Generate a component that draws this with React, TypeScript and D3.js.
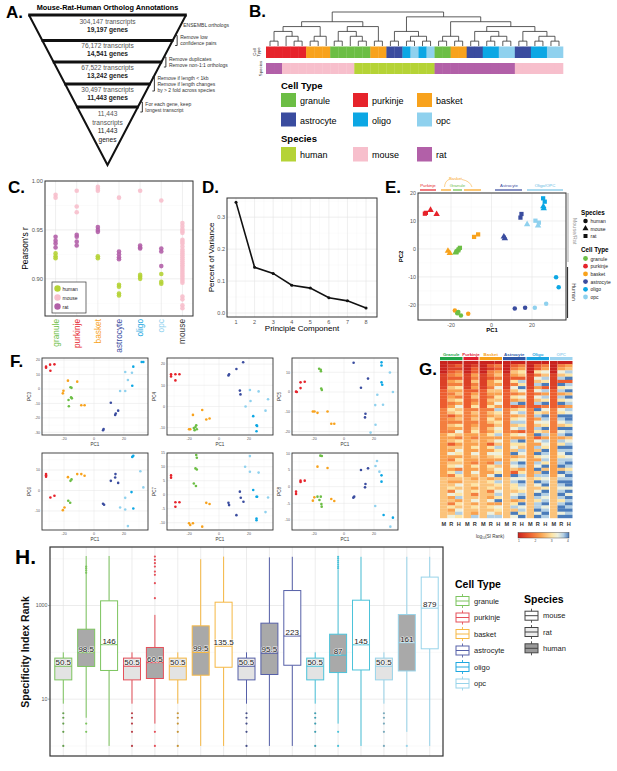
import React from "react";
import * as d3 from "d3";

const FONT = "'Liberation Sans', Arial, Helvetica, sans-serif";

// shared categories
const cellTypes = ["granule", "purkinje", "basket", "astrocyte", "oligo", "opc"];
const cellColors = ["#6cbe45", "#e6232b", "#f8a21c", "#3a4c9f", "#0ca7e4", "#8fd1ee"];
const cellColorsH = ["#7cc45e", "#e5505a", "#f6b844", "#5660a8", "#4cc3da", "#98d4ea"];
const speciesNames = ["human", "mouse", "rat"];
const speciesColors = ["#b5d336", "#f7bfcc", "#b260a8"];

// A. ortholog funnel
const funnelTranscripts = ["304,147", "76,172", "67,522", "30,497", "11,443"];
const funnelGenes = ["19,197", "14,541", "13,242", "11,443", "11,443"];
const funnelNotes = [
  ["ENSEMBL orthologs"],
  ["Remove low", "confidence pairs"],
  ["Remove duplicates", "Remove non-1:1 orthologs"],
  ["Remove if length < 1kb", "Remove if length changes", "by > 2 fold across species"],
  ["For each gene, keep", "longest transcript"],
];

// B. hierarchical clustering (leaf indices)
const dendro = [
  [
    [[[0, 1], [2, [3, 4]]], [[5, 6], 7]],
    [[[8, 9], [10, [11, 12]]], [13, 14]],
  ],
  [
    [[15, 16], [[17, 18], [19, 20]]],
    [
      [[21, 22], [23, 24]],
      [[[25, 26], [[27, 28], [29, 30]]], [[31, 32], [[33, 34], [35, 36]]]],
    ],
  ],
];
const leafCellType = [1, 1, 1, 1, 1, 2, 2, 2, 0, 0, 0, 0, 0, 2, 2, 3, 3, 4, 5, 4, 5, 0, 0, 2, 2, 3, 3, 4, 4, 5, 5, 3, 3, 4, 4, 5, 5];
const leafSpecies = [2, 2, 1, 1, 1, 1, 1, 1, 1, 1, 1, 0, 0, 0, 0, 0, 0, 0, 0, 0, 0, 2, 2, 2, 2, 2, 2, 2, 2, 2, 2, 1, 1, 1, 1, 1, 1];

// C. Pearson's r
const corrCategories = ["granule", "purkinje", "basket", "astrocyte", "oligo", "opc", "mouse"];
const corrHuman = [[0.926, 0.923, 0.921], [], [0.923, 0.921], [0.894, 0.892, 0.885, 0.883], [0.904, 0.902, 0.9], [0.905, 0.897, 0.895], []];
const corrMouse = [
  [0.986, 0.983],
  [0.99, 0.974, 0.968],
  [0.994, 0.992, 0.99],
  [0.983],
  [0.99],
  [0.98],
  [0.957, 0.954, 0.951, 0.949, 0.947, 0.94, 0.938, 0.936, 0.933, 0.93, 0.928, 0.926, 0.924, 0.922, 0.92, 0.918, 0.916, 0.914, 0.912, 0.91, 0.908, 0.906, 0.904, 0.902, 0.9, 0.898, 0.896, 0.882, 0.879, 0.873, 0.87],
];
const corrRat = [[0.943, 0.939, 0.936, 0.932], [0.945, 0.943, 0.938, 0.934], [0.953, 0.95, 0.948], [0.928, 0.925, 0.922, 0.92], [0.934, 0.932, 0.931], [0.931, 0.928, 0.913], []];

// D. scree
const pcIndex = [1, 2, 3, 4, 5, 6, 7, 8];
const pcVariance = [0.347, 0.143, 0.124, 0.087, 0.078, 0.048, 0.038, 0.016];

// E. PC1 vs PC2: [pc1, pc2, cell type, species]
const pcaPoints = [
  [-32.9, 12.6, 1, 2], [-32.4, 12.9, 1, 2], [-30.1, 13.9, 1, 1], [-27.1, 12.4, 1, 1],
  [-8.6, 4.3, 2, 2], [-6.6, 5.2, 2, 2], [-21.5, -0.7, 2, 1], [-20.6, -1.5, 2, 1], [-18.1, -22, 2, 0], [-11.5, -23.2, 2, 0],
  [-17.8, -1.3, 0, 1], [-16.9, -0.6, 0, 1], [-16.2, -0.2, 0, 2], [-15.6, 0.4, 0, 2], [-17.2, -1, 0, 2], [-16.4, -22.5, 0, 0], [-15.1, -23.8, 0, 0], [-16.9, -23, 0, 0],
  [14.3, 11.2, 3, 2], [14.8, 12.5, 3, 2], [6.1, 4.4, 3, 1], [6.6, 3.8, 3, 1], [11.5, -21.3, 3, 0], [16.6, -21, 3, 0],
  [25.5, 18.1, 4, 2], [26.3, 16.9, 4, 2], [25.6, 15.2, 4, 1], [25.8, 14.5, 4, 1], [31.9, -10.1, 4, 0], [33.2, -13.7, 4, 0],
  [17.6, 8.8, 5, 1], [21.7, 10.1, 5, 2], [23.4, 9.4, 5, 2], [23, 8.3, 5, 1], [21.4, -21, 5, 0], [27, -19.6, 5, 0],
];

// F. PC1 vs PC3..PC8: [pc1, pcN, cell type]
const fPC3 = [
  [-32, 15.5, 1], [-32, 14.8, 1], [-29.3, 16.9, 1], [-26.4, 17.1, 1], [-29.1, 12.7, 1],
  [-17.4, 5.8, 2], [-11.2, 5.1, 2], [-20.4, -1.2, 2], [-20.8, -3, 2], [-8.5, -11.3, 2], [-6.3, -11.3, 2],
  [-15.7, 1.2, 0], [-15, 0.8, 0], [-17, -7.6, 0], [-14.8, -6.5, 0], [-15.3, -5.8, 0], [-16.8, -12, 0],
  [11.2, -9.5, 3], [14.1, -18, 3], [14.5, -17, 3], [16.1, -15, 3], [6, -28.6, 3], [6.4, -27.8, 3],
  [31.8, 18.7, 4], [32.9, 18.7, 4], [25.5, 2.3, 4], [26.2, 15.5, 4],
  [20.8, 11.8, 5], [22.6, 6.2, 5], [25.3, 11.3, 5], [17.4, -1.4, 5], [20.8, -1.4, 5],
];
const fPC4 = [
  [-32, 15.2, 1], [-32, 14.2, 1], [-29.1, 15.2, 1], [-26.4, 15.2, 1], [-29.1, 12.3, 1],
  [-17.4, -4, 2], [-11.2, -1.7, 2], [-20, -10.8, 2], [-19.2, -10.8, 2], [-8.5, -6.2, 2], [-6.3, -5.7, 2],
  [-16.8, -10.2, 0], [-15.7, -9.7, 0], [-15.2, -8.9, 0], [-14.8, -10.8, 0], [-16.3, -11.2, 0],
  [6.3, 14.6, 3], [6.7, 15.2, 3], [11.6, 17.7, 3], [16.1, 20.9, 3], [13.9, 7.5, 3], [14.3, 5.7, 3],
  [22.8, -4.6, 4], [25, -8.9, 4], [25.4, -9.2, 4], [25, -11.7, 4],
  [20.6, 7.8, 5], [26.4, 7.1, 5], [32.7, 3.4, 5], [21, 2.6, 5], [17.7, 0, 5], [31, -2, 5],
];
const fPC5 = [
  [-32, 0.2, 1], [-31.5, 0, 1], [-29, 4.9, 1], [-26.2, 5.2, 1], [-29, 2, 1],
  [-20.8, -9.8, 2], [-19.7, -9.8, 2], [-17.7, -10.5, 2], [-11, -9.8, 2], [-8.5, -16, 2], [-6.5, -16, 2],
  [-16.6, 11.8, 0], [-15.5, 11.3, 0], [-15.4, 10.5, 0], [-15.2, 1.8, 0], [-14.8, 1, 0],
  [6.4, 14.8, 3], [16, 6.8, 3], [11.3, 2.2, 3], [14.3, -11, 3], [14, -12.8, 3],
  [25, 15, 4], [25, 13.4, 4], [25, 4.9, 4], [25.5, 3.7, 4],
  [30.6, 9.9, 5], [32.6, 0, 5], [22.2, -1.4, 5], [20.8, -6.6, 5], [26, -6.4, 5], [21, -16.5, 5], [17.7, -20.5, 5],
];
const fPC6 = [
  [-32, 8, 1], [-32, 6.7, 1], [-32, 7.4, 1], [-29.1, -3.4, 1], [-26.4, -2.6, 1],
  [-17.4, 6.5, 2], [-11.2, 8, 2], [-8.5, 8, 2], [-6.3, 7.2, 2], [-19.7, -8.3, 2], [-20.8, -9.6, 2],
  [-15.7, 4.7, 0], [-15, 5.4, 0], [-17.2, -5, 0], [-15.9, -6, 0],
  [6, -6.5, 3], [6.7, -7, 3], [11.2, 4.7, 3], [14.1, 6.3, 3], [14.3, 8, 3], [16.1, 3.7, 3],
  [25.5, 16.4, 4], [26.2, 16.9, 4], [25, -0.8, 4], [26.2, -8.8, 4],
  [30.9, 9.4, 5], [32.9, 1.5, 5], [20.8, -3.6, 5], [17.4, -8.3, 5], [20.8, -9.3, 5], [22.6, -17.4, 5],
];
const fPC7 = [
  [-32, 6.9, 1], [-32, 6.1, 1], [-29.1, -2.7, 1], [-26.4, -2.7, 1], [-29.1, -4.3, 1],
  [-20, -10.2, 2], [-19.2, -10.8, 2], [-17.4, -10.2, 2], [-11.2, -11.4, 2], [-8.5, -2.9, 2], [-6.3, -3.3, 2],
  [-15.2, 14.2, 0], [-14.8, 13.2, 0], [-15.7, 9.4, 0], [-14.8, 9, 0], [-16.8, 4, 0], [-15.4, 3.1, 0],
  [6.3, -2.9, 3], [6.7, -3.7, 3], [13.9, 1.1, 3], [14.5, -1.1, 3], [16.3, -2.5, 3], [11.6, -7.3, 3],
  [22.8, 1.7, 4], [25, -0.7, 4], [25.4, -0.7, 4], [25, -8.5, 4], [25, -9.1, 4],
  [20.6, 13.8, 5], [17.4, 10, 5], [20.6, 8.2, 5], [26.4, 7.9, 5], [32.7, -1, 5], [31, -6.2, 5],
];
const fPC8 = [
  [-32, -1.5, 1], [-32, -2.2, 1], [-29, 1.8, 1], [-26.2, 1.8, 1], [-29, 1.4, 1],
  [-17.7, 6, 2], [-11, 5.6, 2], [-20.8, -4.2, 2], [-19.8, -3.2, 2], [-8.5, -3.7, 2], [-6.5, -4.3, 2],
  [-15.8, 9.3, 0], [-14.8, 9.2, 0], [-17.7, -3, 0], [-15.5, -3, 0], [-16.4, -4, 0], [-15.1, -5.2, 0], [-14.9, -6, 0],
  [6.2, -3.3, 3], [6.8, -3, 3], [11.3, 5, 3], [16, 5.5, 3], [14.3, 0.8, 3], [14, -0.2, 3],
  [25, 3.4, 4], [25, 1.5, 4], [26.4, -8.5, 4], [32.6, -9.3, 4],
  [22, 7.7, 5], [21, 6.2, 5], [23.6, 4.5, 5], [20.8, -5.8, 5], [30.9, -12, 5],
];
const fLabels = ["PC3", "PC4", "PC5", "PC6", "PC7", "PC8"];
const fDomains = [[-31.9, 21.5], [-13.5, 22.9], [-21.7, 17.2], [-19.3, 18.3], [-12.6, 14.9], [-13, 10.1]];
const fTicks = [[-30, -20, -10, 0, 10, 20], [-10, 0, 10, 20], [-20, -10, 0, 10], [-10, 0, 10], [-10, -5, 0, 5, 10, 15], [-10, -5, 0, 5, 10]];

// G. log10(SI rank) heatmap, one digit per row (0 = best rank ... 9 = worst)
const heatGroups = ["Granule", "Purkinje", "Basket", "Astrocyte", "Oligo", "OPC"];
const heatGroupColors = ["#1fa54a", "#e0202f", "#f7a11a", "#2e58a6", "#1aa3e0", "#9dd3ef"];
const heatGroupSpecies = [["M", "R", "H"], ["M", "R"], ["M", "R", "H"], ["M", "R", "H"], ["M", "R", "H"], ["M", "R", "H"]];
const mouseRankColumn = "00001111122222233333333444444444444445555555555555";
const heatRat = [
  "01123243543453465243543645254743564635456374536457",
  "01224353424534635453456435464754364754564635746548",
  "02133244354354635465354645264754365474656354746578",
  "02354263753648257468573648675946875297866578468597",
  "02263758473758296847586927485964879586975798688979",
  "03475829684869376987597848698768895978987898689979",
];
const heatHuman = [
  "02134253645364756453647536457646573865475768465786",
  "",
  "03245364754657486546576847586764857695865786947658",
  "03465286974759368578682749658757984687987689597869",
  "03475869284869375987695848769878695987896987897898",
  "04586928795978487998698957898978986898997979898989",
];

// H. specificity index rank boxplots
const boxCell = [0, 0, 0, 1, 1, 2, 2, 2, 3, 3, 3, 4, 4, 4, 5, 5, 5];
const boxSpecies = ["mouse", "rat", "human", "mouse", "rat", "mouse", "rat", "human", "mouse", "rat", "human", "mouse", "rat", "human", "mouse", "rat", "human"];
const boxMedian = [50.5, 98.5, 146, 50.5, 60.5, 50.5, 99.5, 135.5, 50.5, 95.5, 223, 50.5, 87, 145, 50.5, 161, 879];
const boxQ1 = [25.8, 50, 41, 25.8, 27.6, 25.8, 32.5, 48, 25.8, 33.6, 53, 25.8, 37, 42, 25.8, 40, 119];
const boxQ3 = [75.3, 312, 1259, 75.3, 127, 75.3, 368, 1178, 75.3, 420, 2090, 75.3, 244, 1300, 75.3, 642, 4050];
const boxLow = [8, 4, 1, 8, 3, 8, 1, 1, 8, 1, 1, 8, 3, 1, 8, 2, 1];
const boxHigh = [100, 11400, 11443, 100, 631, 100, 9760, 11100, 100, 10700, 11000, 100, 5800, 11000, 100, 11000, 11000];
const boxOutliers = [
  [1, 2, 3, 4, 5], [6800, 6200, 5600, 5000, 3, 2], [], [1, 2, 3, 4, 5],
  [11100, 9440, 8020, 6810, 5320, 4520, 3000, 1435, 2, 1], [1, 2, 3, 4, 5], [], [],
  [1, 2, 3, 4, 5], [], [], [1, 2, 3, 4, 5], [11000, 10000, 9000, 8200, 7400, 6700, 6200, 2, 1], [],
  [1, 2, 3, 4, 5], [1], [],
];
const boxSpeciesKeys = ["mouse", "rat", "human"];
const boxSpeciesFill = ["#e3e3e3", "#a9a9a9", "#ffffff"];

const MAJ = "#e4e4e4";
const MIN = "#f3f3f3";

function Grid({ xs, ys, x0, x1, y0, y1, xMaj = [], xMin = [], yMaj = [], yMin = [], w = 0.6 }: any) {
  return (
    <g>
      <rect x={x0} y={y0} width={x1 - x0} height={y1 - y0} fill="#fff" />
      {xMin.map((v: any) => <line key={"a" + v} x1={xs(v)} x2={xs(v)} y1={y0} y2={y1} stroke={MIN} strokeWidth={w * 0.6} />)}
      {yMin.map((v: any) => <line key={"b" + v} y1={ys(v)} y2={ys(v)} x1={x0} x2={x1} stroke={MIN} strokeWidth={w * 0.6} />)}
      {xMaj.map((v: any) => <line key={"c" + v} x1={xs(v)} x2={xs(v)} y1={y0} y2={y1} stroke={MAJ} strokeWidth={w} />)}
      {yMaj.map((v: any) => <line key={"d" + v} y1={ys(v)} y2={ys(v)} x1={x0} x2={x1} stroke={MAJ} strokeWidth={w} />)}
    </g>
  );
}

function Border({ x0, x1, y0, y1, w = 1 }: any) {
  return <rect x={x0} y={y0} width={x1 - x0} height={y1 - y0} fill="none" stroke="#333" strokeWidth={w} />;
}

function PanelA() {
  const topY = 15, apexY = 165, left = 29, right = 186, cx = (left + right) / 2;
  const hw = (y: number) => (((right - left) / 2) * (apexY - y)) / (apexY - topY);
  const bars = [15, 40.5, 62, 84, 107];
  return (
    <g>
      <text x={6} y={18} fontSize={17} fontWeight="bold">A.</text>
      <text x={cx} y={10} fontSize={7.3} fontWeight="bold" textAnchor="middle">Mouse-Rat-Human Ortholog Annotations</text>
      <path d={`M${left},${topY} L${cx},${apexY} L${right},${topY}`} fill="none" stroke="#111" strokeWidth={2} />
      {bars.map((y, i) => (
        <line key={i} x1={cx - hw(y) - 0.8} x2={cx + hw(y) + 0.8} y1={y} y2={y} stroke="#111" strokeWidth={3} />
      ))}
      {funnelTranscripts.slice(0, 4).map((t, i) => {
        const c = (bars[i] + bars[i + 1]) / 2;
        return (
          <g key={i} textAnchor="middle">
            <text x={cx} y={c - 3.3} fontSize={6.6} fill="#555">{t} transcripts</text>
            <text x={cx} y={c + 4.7} fontSize={6.6} fill="#222" fontWeight="bold">{funnelGenes[i]} genes</text>
          </g>
        );
      })}
      <g textAnchor="middle" fontSize={6.6}>
        <text x={cx} y={116} fill="#555">{funnelTranscripts[4]}</text>
        <text x={cx} y={124.5} fill="#555">transcripts</text>
        <text x={cx} y={133} fill="#222">{funnelGenes[4]}</text>
        <text x={cx} y={141.5} fill="#222">genes</text>
      </g>
      <text x={cx + hw(25) + 2.5} y={26.5} fontSize={5} fill="#333">{funnelNotes[0][0]}</text>
      {funnelNotes.slice(1).map((lines, k) => {
        const i = k + 1;
        const by = bars[i];
        const bx = cx + hw(by) + 4.5;
        const n = lines.length;
        const h = n > 2 ? 7 : 5;
        return (
          <g key={i}>
            <path d={`M${bx - 2},${by - h} L${bx},${by - h} L${bx},${by + h} L${bx - 2},${by + h}`} fill="none" stroke="#222" strokeWidth={0.9} />
            {lines.map((l, j) => (
              <text key={j} x={bx + 3} y={by - ((n - 1) * 6.2) / 2 + j * 6.2 + 1.8} fontSize={5} fill="#333">{l}</text>
            ))}
          </g>
        );
      })}
    </g>
  );
}

function PanelB() {
  const root = d3.hierarchy<any>(dendro, (d) => (Array.isArray(d) ? d : null));
  const xs = d3.scaleBand<number>().domain(d3.range(leafCellType.length)).range([266, 563]);
  const ys = d3.scaleLinear().domain([0, root.height]).range([46, 12]);
  const pos = new Map<any, [number, number]>();
  root.eachAfter((n: any) => {
    if (!n.children) pos.set(n, [xs(n.data)! + xs.bandwidth() / 2, 46]);
    else {
      const a = pos.get(n.children[0])!;
      const b = pos.get(n.children[n.children.length - 1])!;
      pos.set(n, [(a[0] + b[0]) / 2, ys(n.height)]);
    }
  });
  const segs: any[] = [];
  root.each((n: any) => {
    if (!n.children) return;
    const p = pos.get(n)!;
    const xsC = n.children.map((c: any) => pos.get(c)![0]);
    segs.push(<line key={"h" + segs.length} x1={Math.min(...xsC)} x2={Math.max(...xsC)} y1={p[1]} y2={p[1]} />);
    n.children.forEach((c: any) => {
      const q = pos.get(c)!;
      segs.push(<line key={"v" + segs.length} x1={q[0]} x2={q[0]} y1={p[1]} y2={q[1]} />);
    });
  });
  const legCell = [[0, 1, 2], [3, 4, 5]];
  const colX = [281, 353, 417];
  return (
    <g>
      <text x={249} y={17} fontSize={17} fontWeight="bold">B.</text>
      <g stroke="#333" strokeWidth={0.8}>{segs}</g>
      {leafCellType.map((t, i) => (
        <rect key={"c" + i} x={xs(i)} y={46.5} width={xs.bandwidth() + 0.3} height={11.5} fill={cellColors[t]} />
      ))}
      {leafSpecies.map((s, i) => (
        <rect key={"s" + i} x={xs(i)} y={63} width={xs.bandwidth() + 0.3} height={11} fill={speciesColors[s]} />
      ))}
      <text transform="translate(257.5,52) rotate(-90)" fontSize={4.3} textAnchor="middle" fill="#333">
        <tspan x={0} dy={-2}>Cell</tspan>
        <tspan x={0} dy={4.5}>Type</tspan>
      </text>
      <text transform="translate(261.5,68.5) rotate(-90)" fontSize={4.3} textAnchor="middle" fill="#333">Species</text>
      <text x={281} y={89} fontSize={9.5} fontWeight="bold">Cell Type</text>
      {legCell.map((row, r) =>
        row.map((t, c) => (
          <g key={t}>
            <rect x={colX[c]} y={93 + r * 19.5} width={15} height={14} fill={cellColors[t]} />
            <text x={colX[c] + 19} y={104 + r * 19.5} fontSize={9}>{cellTypes[t]}</text>
          </g>
        ))
      )}
      <text x={281} y={142} fontSize={9.5} fontWeight="bold">Species</text>
      {speciesNames.map((s, i) => (
        <g key={s}>
          <rect x={colX[i]} y={147} width={15} height={14.5} fill={speciesColors[i]} />
          <text x={colX[i] + 19} y={158} fontSize={9}>{s}</text>
        </g>
      ))}
    </g>
  );
}

function PanelC() {
  const x0 = 45, x1 = 193, y0 = 181, y1 = 316;
  const xs = d3.scalePoint<string>().domain(corrCategories).range([x0, x1]).padding(0.5);
  const ys = d3.scaleLinear().domain([0.862, 1.0]).range([y1, y0]);
  const dots = (vals: number[][], color: string, k: string) =>
    vals.flatMap((arr, i) =>
      arr.map((v, j) => <circle key={k + i + "_" + j} cx={xs(corrCategories[i])} cy={ys(v)} r={2.3} fill={color} opacity={0.9} />)
    );
  const labelColors = [...cellColors.map((c, i) => (i === 4 ? "#14a4e0" : c)), "#333"];
  return (
    <g>
      <text x={8} y={193} fontSize={17} fontWeight="bold">C.</text>
      <Grid xs={xs} ys={ys} x0={x0} x1={x1} y0={y0} y1={y1} xMaj={corrCategories} yMaj={[0.9, 0.95, 1.0]} yMin={[0.875, 0.925, 0.975]} />
      {dots(corrHuman, speciesColors[0], "h")}
      {dots(corrMouse, speciesColors[1], "m")}
      {dots(corrRat, speciesColors[2], "r")}
      <Border x0={x0} x1={x1} y0={y0} y1={y1} />
      {[0.9, 0.95, 1.0].map((v) => (
        <text key={v} x={x0 - 2} y={ys(v) + 2} fontSize={5.8} fill="#555" textAnchor="end">{v.toFixed(2)}</text>
      ))}
      <text transform={`translate(28,${(y0 + y1) / 2}) rotate(-90)`} fontSize={8.5} textAnchor="middle">Pearson's r</text>
      {corrCategories.map((c, i) => (
        <text key={c} transform={`translate(${xs(c)! + 3},${y1 + 3}) rotate(-90)`} fontSize={8.3} textAnchor="end" fill={labelColors[i]}>{c}</text>
      ))}
      <rect x={52} y={282} width={34} height={31} fill="#fff" stroke="#333" strokeWidth={0.7} />
      {speciesNames.map((s, i) => (
        <g key={s}>
          <circle cx={57.5} cy={288.5 + i * 9} r={3.2} fill={speciesColors[i]} />
          <text x={62.5} y={290.5 + i * 9} fontSize={5} fill="#222">{s}</text>
        </g>
      ))}
    </g>
  );
}

function PanelD() {
  const x0 = 227, x1 = 377, y0 = 198, y1 = 317;
  const xs = d3.scaleLinear().domain([0.515, 8.59]).range([x0, x1]);
  const ys = d3.scaleLinear().domain([-0.0125, 0.36]).range([y1, y0]);
  const path = d3.line<number>().x((_d, i) => xs(pcIndex[i])).y((d) => ys(d))(pcVariance) || "";
  return (
    <g>
      <text x={202} y={193} fontSize={17} fontWeight="bold">D.</text>
      <Grid xs={xs} ys={ys} x0={x0} x1={x1} y0={y0} y1={y1} xMaj={pcIndex} xMin={[1.5, 2.5, 3.5, 4.5, 5.5, 6.5, 7.5]} yMaj={[0, 0.1, 0.2, 0.3]} yMin={[0.05, 0.15, 0.25, 0.35]} />
      <path d={path} fill="none" stroke="#111" strokeWidth={1.6} />
      {pcVariance.map((v, i) => <circle key={i} cx={xs(pcIndex[i])} cy={ys(v)} r={1.5} fill="#111" />)}
      <Border x0={x0} x1={x1} y0={y0} y1={y1} />
      {[0, 0.1, 0.2, 0.3].map((v) => (
        <text key={v} x={x0 - 2} y={ys(v) + 2} fontSize={5.5} fill="#555" textAnchor="end">{v.toFixed(1)}</text>
      ))}
      {pcIndex.map((v) => (
        <text key={v} x={xs(v)} y={y1 + 6.5} fontSize={5.5} fill="#555" textAnchor="middle">{v}</text>
      ))}
      <text transform={`translate(214,${(y0 + y1) / 2}) rotate(-90)`} fontSize={8} textAnchor="middle">Percent of Variance</text>
      <text x={(x0 + x1) / 2} y={331} fontSize={8} textAnchor="middle">Principle Component</text>
    </g>
  );
}

const shapes = [d3.symbolCircle, d3.symbolTriangle, d3.symbolSquare];
const sym = (s: number, size: number) => d3.symbol().type(shapes[s]).size(size)() || "";

function PanelE() {
  const x0 = 418, x1 = 566, y0 = 193, y1 = 320;
  const xs = d3.scaleLinear().domain([-36.3, 36.8]).range([x0, x1]);
  const ys = d3.scaleLinear().domain([-25.4, 20]).range([y1, y0]);
  const ucol = "#5db8e2";
  return (
    <g>
      <text x={385} y={193} fontSize={17} fontWeight="bold">E.</text>
      <Grid xs={xs} ys={ys} x0={x0} x1={x1} y0={y0} y1={y1} xMaj={[-20, 0, 20]} xMin={[-30, -10, 10, 30]} yMaj={[-20, -10, 0, 10, 20]} yMin={[-25, -15, -5, 5, 15]} />
      {pcaPoints.map((p, i) => (
        <path key={i} d={sym(p[3], p[3] === 0 ? 16 : 18)} transform={`translate(${xs(p[0])},${ys(p[1])})`} fill={cellColors[p[2]]} />
      ))}
      <Border x0={x0} x1={x1} y0={y0} y1={y1} />
      {[-20, -10, 0, 10, 20].map((v) => (
        <text key={v} x={x0 - 2} y={ys(v) + 2} fontSize={5.3} fill="#555" textAnchor="end">{v}</text>
      ))}
      {[-20, 0, 20].map((v) => (
        <text key={v} x={xs(v)} y={y1 + 6.5} fontSize={5.3} fill="#555" textAnchor="middle">{v}</text>
      ))}
      <text transform={`translate(403,${(y0 + y1) / 2}) rotate(-90)`} fontSize={6} fontWeight="bold" textAnchor="middle">PC2</text>
      <text x={(x0 + x1) / 2} y={332} fontSize={6} fontWeight="bold" textAnchor="middle">PC1</text>
      <g fontSize={4.3} textAnchor="middle">
        <text x={428} y={187} fill={cellColors[1]}>Purkinje</text>
        <line x1={420} x2={436} y1={190} y2={190} stroke={cellColors[1]} strokeWidth={1.2} />
        <text x={455.5} y={180} fill={cellColors[2]}>Basket</text>
        <path d="M449,179.5 Q445,181 444.5,187" fill="none" stroke={cellColors[2]} strokeWidth={0.5} />
        <path d="M462,179.5 Q470,181 472,187" fill="none" stroke={cellColors[2]} strokeWidth={0.5} />
        <text x={457.5} y={187} fill={cellColors[0]}>Granule</text>
        <line x1={441} x2={451} y1={190} y2={190} stroke={cellColors[2]} strokeWidth={1.2} />
        <line x1={453} x2={462} y1={190} y2={190} stroke={cellColors[0]} strokeWidth={1.2} />
        <line x1={464} x2={481} y1={190} y2={190} stroke={cellColors[2]} strokeWidth={1.2} />
        <text x={509} y={187} fill={cellColors[3]}>Astrocyte</text>
        <line x1={495} x2={522} y1={190} y2={190} stroke={cellColors[3]} strokeWidth={1.2} />
        <text x={545} y={187} fill={ucol}>Oligo/OPC</text>
        <line x1={527} x2={563} y1={190} y2={190} stroke={ucol} strokeWidth={1.2} />
      </g>
      <line x1={568} x2={568} y1={193} y2={262} stroke="#b5b5b5" strokeWidth={1.2} />
      <text transform="translate(572.5,231) rotate(90)" fontSize={5.5} fill="#999" textAnchor="middle">Mouse/Rat</text>
      <line x1={567.5} x2={567.5} y1={267} y2={318} stroke="#333" strokeWidth={1.2} />
      <text transform="translate(572,292) rotate(90)" fontSize={5.5} fill="#333" textAnchor="middle">Human</text>
      <text x={581} y={214.5} fontSize={6.3} fontWeight="bold">Species</text>
      {speciesNames.map((s, i) => (
        <g key={s}>
          <path d={sym(i, 16)} transform={`translate(585.5,${221 + i * 7.5})`} fill="#111" />
          <text x={590.5} y={223 + i * 7.5} fontSize={5} fill="#222">{s}</text>
        </g>
      ))}
      <text x={581} y={251.5} fontSize={6.3} fontWeight="bold">Cell Type</text>
      {cellTypes.map((t, i) => (
        <g key={t}>
          <circle cx={585.5} cy={258.5 + i * 7.7} r={2.4} fill={cellColors[i]} />
          <text x={590.5} y={260.5 + i * 7.7} fontSize={5} fill="#222">{t}</text>
        </g>
      ))}
    </g>
  );
}

function PanelF() {
  const data = [fPC3, fPC4, fPC5, fPC6, fPC7, fPC8];
  const lefts = [42, 167, 292];
  const tops = [358, 453];
  return (
    <g>
      <text x={10} y={367} fontSize={17} fontWeight="bold">F.</text>
      {data.map((pts, k) => {
        const x0 = lefts[k % 3], x1 = x0 + 106;
        const y0 = tops[Math.floor(k / 3)], y1 = y0 + 77;
        const xs = d3.scaleLinear().domain([-34.7, 36]).range([x0, x1]);
        const ys = d3.scaleLinear().domain(fDomains[k]).range([y1, y0]);
        const yt = fTicks[k];
        const step = yt[1] - yt[0];
        const yMin = yt.map((v) => v + step / 2).concat([yt[0] - step / 2]);
        return (
          <g key={k}>
            <Grid xs={xs} ys={ys} x0={x0} x1={x1} y0={y0} y1={y1} xMaj={[-20, 0, 20]} xMin={[-30, -10, 10, 30]} yMaj={yt} yMin={yMin.filter((v) => v > fDomains[k][0] && v < fDomains[k][1])} w={0.5} />
            {pts.map((p, i) => (
              <circle key={i} cx={xs(p[0])} cy={ys(p[1])} r={1.3} fill={cellColors[p[2]]} />
            ))}
            <Border x0={x0} x1={x1} y0={y0} y1={y1} w={0.9} />
            {yt.map((v) => (
              <text key={v} x={x0 - 2} y={ys(v) + 1.3} fontSize={3.6} fill="#555" textAnchor="end">{v}</text>
            ))}
            {[-20, 0, 20].map((v) => (
              <text key={v} x={xs(v)} y={y1 + 4.5} fontSize={3.6} fill="#555" textAnchor="middle">{v}</text>
            ))}
            <text x={(x0 + x1) / 2} y={y1 + 10.5} fontSize={4.5} textAnchor="middle" fill="#333">PC1</text>
            <text transform={`translate(${x0 - 11},${(y0 + y1) / 2}) rotate(-90)`} fontSize={4.5} textAnchor="middle" fill="#333">{fLabels[k]}</text>
          </g>
        );
      })}
    </g>
  );
}

const heatColor = d3
  .scaleLinear<string>()
  .domain([0, 2, 4, 6, 7, 8, 9])
  .range(["#c9231f", "#ec5d2f", "#f9a14f", "#fde5a6", "#eef0dc", "#b3cfe3", "#4b7cba"]);

function PanelG() {
  const colW = 7.5, gap = 1, x0 = 440;
  const cols: { x: number; col: string; letter: string }[] = [];
  const groupSpan: [number, number][] = [];
  let x = x0;
  heatGroupSpecies.forEach((letters, g) => {
    const start = x;
    letters.forEach((l) => {
      const col = l === "M" ? mouseRankColumn : l === "R" ? heatRat[g] : heatHuman[g];
      cols.push({ x, col, letter: l });
      x += colW;
    });
    groupSpan.push([start, x]);
    x += gap;
  });
  const rows = d3.scaleBand<number>().domain(d3.range(mouseRankColumn.length)).range([361, 518]);
  const gradStops = d3.range(0, 9.01, 1);
  return (
    <g>
      <text x={419} y={375} fontSize={17} fontWeight="bold">G.</text>
      {heatGroups.map((g, i) => (
        <g key={g}>
          <text x={(groupSpan[i][0] + groupSpan[i][1]) / 2} y={355.5} fontSize={4.4} fontWeight="bold" textAnchor="middle" fill={heatGroupColors[i]}>{g}</text>
          <rect x={groupSpan[i][0]} y={357} width={groupSpan[i][1] - groupSpan[i][0]} height={3.2} fill={heatGroupColors[i]} />
        </g>
      ))}
      {cols.map((c, ci) => (
        <g key={ci}>
          {c.col.split("").map((ch, r) => (
            <rect key={r} x={c.x} y={rows(r)} width={colW} height={rows.bandwidth() + 0.2} fill={heatColor(+ch)} />
          ))}
          <text x={c.x + colW / 2} y={526} fontSize={5.6} fontWeight="bold" textAnchor="middle" fill="#333">{c.letter}</text>
        </g>
      ))}
      <defs>
        <linearGradient id="siGrad" x1="0" x2="1" y1="0" y2="0">
          {gradStops.map((v) => (
            <stop key={v} offset={`${(v / 9) * 100}%`} stopColor={heatColor(v)} />
          ))}
        </linearGradient>
      </defs>
      <text x={476} y={537.5} fontSize={4.5} fill="#333">
        log<tspan fontSize={3} dy={1}>10</tspan>
        <tspan dy={-1}>(SI Rank)</tspan>
      </text>
      <rect x={518} y={532.5} width={51} height={5.5} fill="url(#siGrad)" stroke="#333" strokeWidth={0.4} />
      {[1, 2, 3, 4].map((v, i) => (
        <text key={v} x={519 + i * 16.3} y={542} fontSize={3.3} fill="#444" textAnchor="middle">{v}</text>
      ))}
    </g>
  );
}

function BoxGlyph({ x, y, stroke, fill }: any) {
  return (
    <g>
      <line x1={x + 6.5} x2={x + 6.5} y1={y - 7} y2={y + 7} stroke={stroke} strokeWidth={0.9} />
      <rect x={x} y={y - 4.5} width={13} height={9} fill={fill} stroke={stroke} strokeWidth={1} />
      <line x1={x} x2={x + 13} y1={y} y2={y} stroke={stroke} strokeWidth={1} />
    </g>
  );
}

function PanelH() {
  const x0 = 50, x1 = 443, y0 = 547, y1 = 756;
  const xs = d3.scalePoint<number>().domain(d3.range(boxMedian.length)).range([x0, x1]).padding(0.58);
  const ys = d3.scaleLog().domain([0.61, 17800]).range([y1, y0]);
  const bw = 17;
  return (
    <g>
      <text x={15} y={564} fontSize={21} fontWeight="bold">H.</text>
      <rect x={x0} y={y0} width={x1 - x0} height={y1 - y0} fill="#fff" />
      {[1, 100, 10000].map((v) => <line key={v} x1={x0} x2={x1} y1={ys(v)} y2={ys(v)} stroke={MIN} strokeWidth={0.5} />)}
      {[10, 1000].map((v) => <line key={v} x1={x0} x2={x1} y1={ys(v)} y2={ys(v)} stroke={MAJ} strokeWidth={0.7} />)}
      {boxMedian.map((_m, i) => <line key={i} x1={xs(i)} x2={xs(i)} y1={y0} y2={y1} stroke={MAJ} strokeWidth={0.7} />)}
      {boxMedian.map((m, i) => {
        const cx = xs(i)!;
        const col = cellColorsH[boxCell[i]];
        const fill = boxSpeciesFill[boxSpeciesKeys.indexOf(boxSpecies[i])];
        const ptCol = boxSpecies[i] === "mouse" ? d3.color(col)!.darker(0.6).toString() : col;
        return (
          <g key={i}>
            <line x1={cx} x2={cx} y1={ys(boxHigh[i])} y2={ys(boxQ3[i])} stroke={col} strokeWidth={1} />
            <line x1={cx} x2={cx} y1={ys(boxQ1[i])} y2={ys(boxLow[i])} stroke={col} strokeWidth={1} />
            <rect x={cx - bw / 2} y={ys(boxQ3[i])} width={bw} height={ys(boxQ1[i]) - ys(boxQ3[i])} fill={fill} stroke={col} strokeWidth={1} />
            <line x1={cx - bw / 2} x2={cx + bw / 2} y1={ys(m)} y2={ys(m)} stroke={col} strokeWidth={1.1} />
            {boxOutliers[i].map((o, j) => (
              <circle key={j} cx={cx} cy={ys(o)} r={1.1} fill={ptCol} />
            ))}
            <text x={cx} y={ys(m) - 1} fontSize={8} textAnchor="middle" fill="#222" stroke="#fff" strokeWidth={1.2} strokeOpacity={0.8} paintOrder="stroke">{m}</text>
          </g>
        );
      })}
      <rect x={x0} y={y0} width={x1 - x0} height={y1 - y0} fill="none" stroke="#333" strokeWidth={1.2} />
      {[10, 1000].map((v) => (
        <g key={v}>
          <line x1={x0 - 2} x2={x0} y1={ys(v)} y2={ys(v)} stroke="#555" strokeWidth={0.5} />
          <text x={x0 - 2.5} y={ys(v) + 1.8} fontSize={5.3} fill="#555" textAnchor="end">{v}</text>
        </g>
      ))}
      <text transform={`translate(29,652) rotate(-90)`} fontSize={10.5} fontWeight="bold" textAnchor="middle" fill="#111">Specificity Index Rank</text>
      <text x={455} y={588} fontSize={10.5} fontWeight="bold">Cell Type</text>
      {cellTypes.map((t, i) => (
        <g key={t}>
          <BoxGlyph x={456} y={601 + i * 16.5} stroke={i === 4 ? "#1ea8e0" : cellColorsH[i]} fill="#fff" />
          <text x={474} y={603.5 + i * 16.5} fontSize={7.5} fill="#222">{t}</text>
        </g>
      ))}
      <text x={524} y={603} fontSize={10.5} fontWeight="bold">Species</text>
      {boxSpeciesKeys.map((s, i) => (
        <g key={s}>
          <BoxGlyph x={525} y={615.7 + i * 16.3} stroke="#444" fill={["#ffffff", "#ececec", "#9a9a9a"][i]} />
          <text x={543} y={618.2 + i * 16.3} fontSize={7.5} fill="#222">{s}</text>
        </g>
      ))}
    </g>
  );
}

export default function App() {
  return (
    <div style={{ position: "absolute", left: 0, top: 0 }}>
      <svg width={617} height={771} style={{ display: "block", background: "#fff" }} fontFamily={FONT}>
        <PanelA />
        <PanelB />
        <PanelC />
        <PanelD />
        <PanelE />
        <PanelF />
        <PanelG />
        <PanelH />
      </svg>
    </div>
  );
}
